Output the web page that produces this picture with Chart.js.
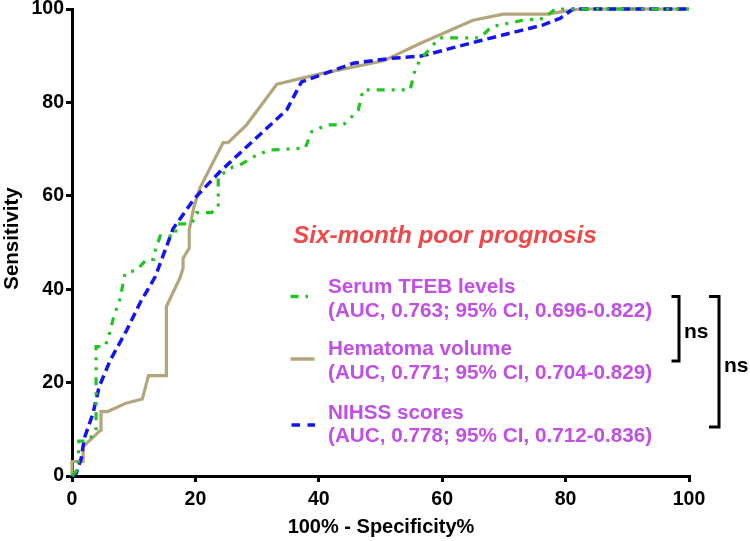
<!DOCTYPE html>
<html>
<head>
<meta charset="utf-8">
<script src="https://cdn.jsdelivr.net/npm/chart.js@4.4.1/dist/chart.umd.min.js"></script>
<style>
  html, body { margin: 0; padding: 0; background: #ffffff; }
  #wrap { width: 750px; height: 541px; position: relative; }
</style>
</head>
<body>
<div id="wrap"><canvas id="c"></canvas></div>
<script>
// ---- Data ----
const xTicks = [0, 20, 40, 60, 80, 100];
const yTicks = [0, 20, 40, 60, 80, 100];

const tfebX = [0, 1.0, 1.1, 2.5, 3.9, 3.9, 5.3, 5.9, 6.7, 7.8, 8.6, 10.5, 12.1, 13.2, 13.5, 14.3, 15.2, 16.7, 17.0, 19.4, 20.2, 22.6, 23.7, 23.7, 26.1, 27.2, 29.9, 32.1, 37.8, 38.8, 41.3, 44.0, 45.1, 46.4, 47.2, 54.8, 55.6, 56.4, 58.8, 59.6, 66.1, 68.0, 73.1, 76.7, 77.5, 78.3, 100];
const tfebY = [0, 1.5, 7.5, 7.5, 9.5, 27.7, 27.7, 29.5, 33.8, 38.0, 43.4, 44.1, 46.4, 46.4, 48.4, 51.4, 51.4, 51.4, 54.0, 54.0, 56.4, 56.4, 57.5, 64.1, 66.2, 66.6, 68.7, 69.8, 70.2, 73.7, 75.2, 75.2, 76.6, 78.4, 82.7, 82.7, 86.9, 89.1, 92.7, 93.8, 93.8, 96.2, 97.6, 98.0, 99.1, 100, 100];

const hemaX = [0, 0, 1.8, 1.8, 4.6, 4.7, 5.8, 8.75, 11.4, 12.4, 15.3, 15.3, 17.5, 18.0, 18.0, 19.0, 19.0, 19.7, 20.7, 24.5, 25.3, 28.3, 33.2, 40.2, 50.5, 56.4, 65.0, 69.9, 76.9, 82.3, 100];
const hemaY = [0, 3.1, 3.1, 6.3, 9.8, 13.8, 13.8, 15.6, 16.5, 21.5, 21.5, 36.3, 42.4, 44.5, 46.6, 48.8, 52.7, 57.3, 61.6, 71.4, 71.4, 75.2, 83.9, 86.1, 88.9, 92.6, 97.6, 98.9, 98.9, 100, 100];

const nihssX = [0, 0.7, 1.5, 2.0, 3.4, 4.4, 6.2, 8.9, 11.0, 13.5, 16.4, 19.9, 24.0, 27.5, 34.8, 37.2, 45.6, 51.5, 56.4, 58.0, 66.1, 76.4, 79.1, 81.2, 100];
const nihssY = [0, 0.6, 3.8, 8.1, 13.4, 19.1, 24.8, 31.3, 37.0, 42.7, 53.0, 59.5, 65.2, 69.5, 78.4, 84.4, 88.4, 89.4, 89.9, 90.4, 93.2, 96.6, 98.0, 100, 100];

const seriesNames = ['Serum TFEB levels', 'Hematoma volume', 'NIHSS scores'];
const seriesAUC = ['(AUC, 0.763; 95% CI, 0.696-0.822)', '(AUC, 0.771; 95% CI, 0.704-0.829)', '(AUC, 0.778; 95% CI, 0.712-0.836)'];
const legendTitle = 'Six-month poor prognosis';
const xTitle = '100% - Specificity%';
const yTitle = 'Sensitivity';
const sigLabel = 'ns';

// ---- Styles ----
const GREEN = '#1fc61f';
const TAN = '#b4a67c';
const BLUE = '#1414f0';
const PURPLE = '#c14fe6';
const RED = '#f04848';
const FONT = "'Liberation Sans', Arial, sans-serif";

function pts(xs, ys) { return xs.map((x, i) => ({ x: x, y: ys[i] })); }

const GREEN_DASH = [8, 7, 3, 7, 3, 7];
const BLUE_DASH = [9, 5];

const overlay = {
  id: 'overlay',
  afterDraw(chart) {
    const ctx = chart.ctx;
    ctx.save();
    // Axis titles
    ctx.fillStyle = '#000';
    ctx.font = "bold 20px " + FONT;
    ctx.textAlign = 'center';
    ctx.textBaseline = 'middle';
    ctx.fillText(xTitle, 381, 527);
    ctx.save();
    ctx.translate(12, 238.5);
    ctx.rotate(-Math.PI / 2);
    ctx.font = "bold 20.5px " + FONT;
    ctx.fillText(yTitle, 0, 0);
    ctx.restore();

    // Legend title
    ctx.textAlign = 'left';
    ctx.fillStyle = RED;
    ctx.font = "italic bold 24.3px " + FONT;
    ctx.fillText(legendTitle, 293, 236);

    // Legend entries
    const rows = [287, 349, 413];
    const sub = [311, 373, 436];
    const symY = [296.5, 359, 425];
    ctx.font = "bold 20.7px " + FONT;
    ctx.fillStyle = PURPLE;
    for (let i = 0; i < 3; i++) {
      ctx.fillText(seriesNames[i], 328, rows[i]);
      ctx.fillText(seriesAUC[i], 328, sub[i]);
    }
    // legend symbols
    ctx.lineCap = 'butt';
    ctx.lineWidth = 3.5;
    ctx.strokeStyle = GREEN;
    ctx.setLineDash([]);
    ctx.beginPath(); ctx.moveTo(290.5, symY[0]); ctx.lineTo(298.5, symY[0]); ctx.stroke();
    ctx.beginPath(); ctx.moveTo(305.5, symY[0]); ctx.lineTo(308, symY[0]); ctx.stroke();
    ctx.strokeStyle = TAN;
    ctx.beginPath(); ctx.moveTo(290.5, symY[1]); ctx.lineTo(314.5, symY[1]); ctx.stroke();
    ctx.strokeStyle = BLUE;
    ctx.beginPath(); ctx.moveTo(291.5, symY[2]); ctx.lineTo(300, symY[2]); ctx.stroke();
    ctx.beginPath(); ctx.moveTo(307.5, symY[2]); ctx.lineTo(315, symY[2]); ctx.stroke();

    // Significance brackets
    ctx.strokeStyle = '#000';
    ctx.lineWidth = 3;
    ctx.lineJoin = 'miter';
    ctx.beginPath();
    ctx.moveTo(671.5, 296.5); ctx.lineTo(679, 296.5); ctx.lineTo(679, 361); ctx.lineTo(671.5, 361);
    ctx.stroke();
    ctx.beginPath();
    ctx.moveTo(709, 296.5); ctx.lineTo(719, 296.5); ctx.lineTo(719, 427); ctx.lineTo(709, 427);
    ctx.stroke();
    ctx.fillStyle = '#000';
    ctx.font = "bold 21px " + FONT;
    ctx.fillText(sigLabel, 684, 332);
    ctx.fillText(sigLabel, 724, 366);
    ctx.restore();
  }
};

new Chart(document.getElementById('c'), {
  type: 'scatter',
  data: {
    datasets: [
      { label: seriesNames[0], data: pts(tfebX, tfebY), showLine: true, borderColor: GREEN, borderWidth: 3.2,
        borderDash: GREEN_DASH, pointRadius: 0, tension: 0, fill: false, clip: 6 },
      { label: seriesNames[2], data: pts(nihssX, nihssY), showLine: true, borderColor: BLUE, borderWidth: 3.5,
        borderDash: BLUE_DASH, pointRadius: 0, tension: 0, fill: false, clip: 6 },
      { label: seriesNames[1], data: pts(hemaX, hemaY), showLine: true, borderColor: TAN, borderWidth: 3.2,
        pointRadius: 0, tension: 0, fill: false, clip: 6 }
    ]
  },
  options: {
    responsive: true,
    maintainAspectRatio: false,
    animation: false,
    devicePixelRatio: 1,
    layout: { padding: { top: 9, right: 61, left: 0, bottom: 0 } },
    plugins: { legend: { display: false }, tooltip: { enabled: false } },
    scales: {
      x: {
        type: 'linear', min: 0, max: 100,
        afterBuildTicks(s) { s.ticks = xTicks.map(v => ({ value: v })); },
        afterFit(s) { s.height = 65; s.paddingLeft = 0; s.paddingRight = 0; },
        ticks: { color: '#000', font: { family: FONT, size: 19.5, weight: 'bold' }, padding: 6, maxRotation: 0 },
        grid: { drawOnChartArea: false, drawTicks: true, tickLength: 6, color: '#000', lineWidth: 3 },
        border: { display: true, color: '#000', width: 3 }
      },
      y: {
        type: 'linear', min: 0, max: 100,
        afterBuildTicks(s) { s.ticks = yTicks.map(v => ({ value: v })); },
        afterFit(s) { s.width = 72; s.paddingTop = 0; s.paddingBottom = 0; },
        ticks: { color: '#000', font: { family: FONT, size: 19.5, weight: 'bold' }, padding: 2 },
        grid: { drawOnChartArea: false, drawTicks: true, tickLength: 6, color: '#000', lineWidth: 3 },
        border: { display: true, color: '#000', width: 3 }
      }
    }
  },
  plugins: [overlay]
});
</script>
</body>
</html>
